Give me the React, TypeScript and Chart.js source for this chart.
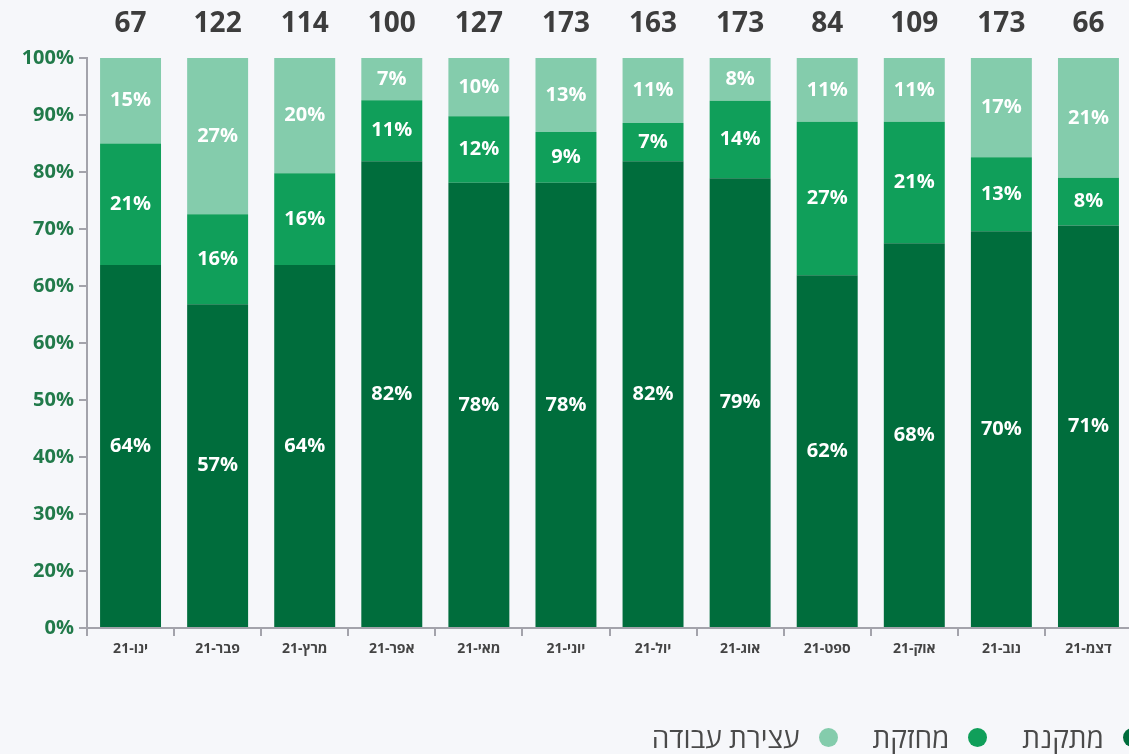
import React, { useEffect, useRef } from "react";
import { Chart, registerables } from "chart.js";

Chart.register(...registerables);

const months = ["ינו-21", "פבר-21", "מרץ-21", "אפר-21", "מאי-21", "יוני-21", "יול-21", "אוג-21", "ספט-21", "אוק-21", "נוב-21", "דצמ-21"];
const totals = [67, 122, 114, 100, 127, 173, 163, 173, 84, 109, 173, 66];
const fixedShare = [63.7, 56.8, 63.7, 81.9, 78.1, 78.1, 81.9, 78.9, 61.9, 67.5, 69.6, 70.6];
const strengthenShare = [21.3, 15.8, 16.1, 10.7, 11.7, 8.9, 6.7, 13.6, 26.9, 21.3, 13.0, 8.4];
const stoppedShare = [15.1, 27.4, 20.2, 7.4, 10.2, 13.0, 11.4, 7.5, 11.2, 11.2, 17.4, 21.0];
const yTickLabels = ["0%", "20%", "30%", "40%", "50%", "60%", "60%", "70%", "80%", "90%", "100%"];
const seriesNames = ["מתקנת", "מחזקת", "עצירת עבודה"];
const seriesColors = ["#006D3C", "#109F5A", "#84CCAC"];

const NUM_FONT = "'Open Sans', 'DejaVu Sans', sans-serif";

const labelPlugin = {
  id: "segLabels",
  afterDatasetsDraw(chart: any) {
    const ctx = chart.ctx;
    ctx.save();
    ctx.fillStyle = "#ffffff";
    ctx.font = `bold 20px ${NUM_FONT}`;
    ctx.textAlign = "center";
    ctx.textBaseline = "middle";
    chart.data.datasets.forEach((ds: any, i: number) => {
      const meta = chart.getDatasetMeta(i);
      meta.data.forEach((bar: any, j: number) => {
        const p = bar.getProps(["x", "y", "base"], true);
        const v = ds.data[j];
        ctx.fillText(Math.round(v) + "%", p.x, (p.y + p.base) / 2);
      });
    });
    ctx.restore();
  },
};

export default function App() {
  const ref = useRef<HTMLCanvasElement | null>(null);

  useEffect(() => {
    document.body.style.margin = "0";
    document.body.style.background = "#f6f7fa";
    const canvas = ref.current;
    if (!canvas) return;
    const chart = new Chart(canvas, {
      type: "bar",
      data: {
        labels: months,
        datasets: [fixedShare, strengthenShare, stoppedShare].map((d, i) => ({
          label: seriesNames[i],
          data: d,
          backgroundColor: seriesColors[i],
          borderWidth: 0,
          barPercentage: 0.7,
          categoryPercentage: 1,
        })),
      },
      options: {
        animation: false,
        responsive: true,
        maintainAspectRatio: false,
        layout: { padding: { left: 0, right: 13, top: 0, bottom: 0 } },
        plugins: {
          legend: { display: false },
          tooltip: { enabled: false },
        },
        scales: {
          x: {
            stacked: true,
            offset: true,
            grid: {
              offset: true,
              drawOnChartArea: false,
              drawTicks: true,
              tickLength: 8,
              color: "#a3a3ab",
              lineWidth: 2,
            },
            border: { display: true, color: "#a3a3ab", width: 2 },
            ticks: {
              color: "#444444",
              font: { family: NUM_FONT, size: 14, weight: "bold" },
              padding: 5,
              maxRotation: 0,
              autoSkip: false,
            },
            afterFit: (s: any) => {
              s.height = 126;
            },
          },
          x2: {
            type: "category",
            position: "top",
            labels: totals.map(String),
            offset: true,
            grid: { display: false, drawTicks: false },
            border: { display: false },
            ticks: {
              color: "#3d3d3d",
              font: { family: NUM_FONT, size: 28, weight: "bold" },
              padding: 17,
              maxRotation: 0,
              autoSkip: false,
            },
            afterFit: (s: any) => {
              s.height = 58;
            },
          },
          y: {
            stacked: true,
            min: 0,
            max: 100,
            grid: {
              drawOnChartArea: false,
              drawTicks: true,
              tickLength: 8,
              color: "#a3a3ab",
              lineWidth: 2,
            },
            border: { display: true, color: "#a3a3ab", width: 2 },
            ticks: {
              stepSize: 10,
              color: "#217A4A",
              font: { family: NUM_FONT, size: 20, weight: "bold" },
              padding: 5,
              callback: (_v: any, i: number) => yTickLabels[i],
            },
            afterFit: (s: any) => {
              s.width = 87;
            },
          },
        },
      },
      plugins: [labelPlugin],
    });
    return () => chart.destroy();
  }, []);

  const legendItems = seriesNames.map((n, i) => (
    <div key={n} style={{ display: "flex", alignItems: "center", marginLeft: i < 2 ? 35 : 0 }}>
      <span
        style={{
          width: 19,
          height: 19,
          borderRadius: "50%",
          background: seriesColors[i],
          display: "inline-block",
          marginLeft: 19,
        }}
      />
      <span>{n}</span>
    </div>
  ));

  return (
    <div style={{ position: "fixed", left: 0, top: 0, width: 1129, height: 754, overflow: "hidden", background: "#f6f7fa" }}>
      <div style={{ position: "absolute", left: 0, top: 0, width: 1145, height: 754 }}>
        <canvas ref={ref} />
      </div>
      <div
        dir="rtl"
        style={{
          position: "absolute",
          top: 721,
          right: -13,
          display: "flex",
          flexDirection: "row",
          fontFamily: "'Open Sans', 'DejaVu Sans', sans-serif",
          fontSize: 28,
          lineHeight: "32px",
          color: "#4a4a4a",
          whiteSpace: "nowrap",
        }}
      >
        {legendItems}
      </div>
    </div>
  );
}
